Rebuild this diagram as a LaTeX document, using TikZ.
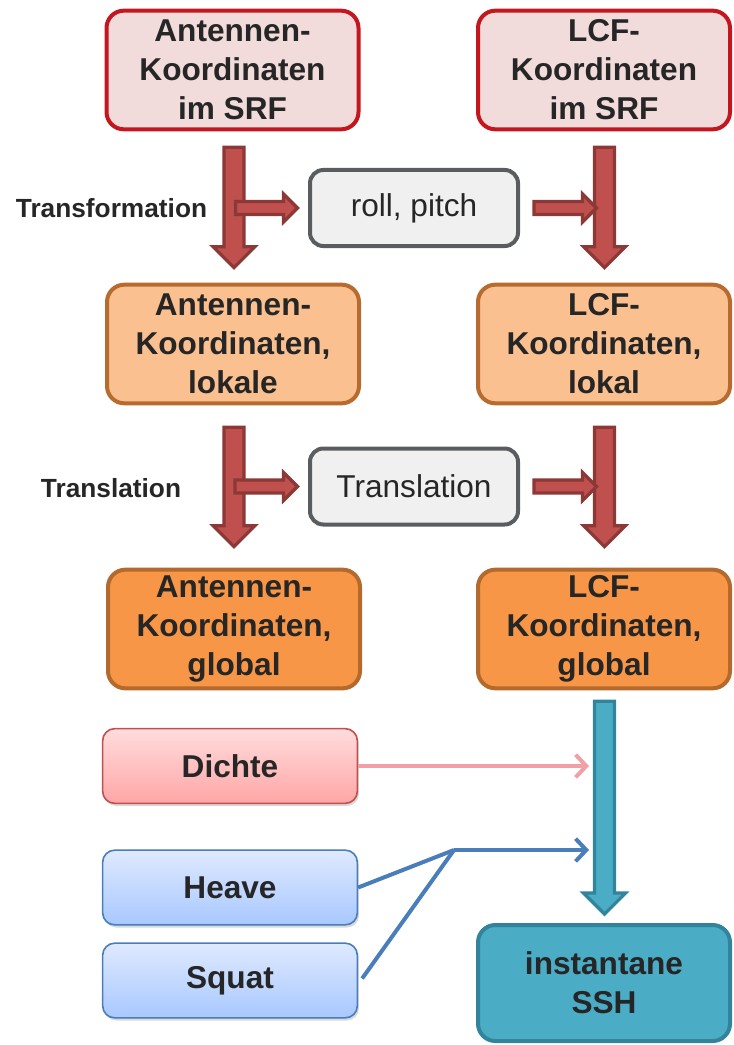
\documentclass[tikz,border=0pt]{standalone}
\usepackage{fontspec}
\setmainfont{Liberation Sans}
\usepackage{xcolor}
\usepackage{tikz}
\usetikzlibrary{
  positioning,
  arrows.meta,
  calc,
  shadows
}
\definecolor{srfrand}{HTML}{C4161F}
\definecolor{srffill}{HTML}{F2DCDB}
\definecolor{lokrand}{HTML}{B86B2E}
\definecolor{lokfill}{HTML}{FAC090}
\definecolor{globrand}{HTML}{B36A2C}
\definecolor{globfill}{HTML}{F79646}
\definecolor{graurand}{HTML}{595D60}
\definecolor{graufill}{HTML}{F0F0F0}
\definecolor{pfeilrot}{HTML}{C0504D}
\definecolor{pfeilrand}{HTML}{8C3836}
\definecolor{tuerkis}{HTML}{4BACC6}
\definecolor{tuerkisrand}{HTML}{31849B}
\definecolor{rosa}{HTML}{F2A0A8}
\definecolor{rosaoben}{HTML}{FFDCDC}
\definecolor{rosaunten}{HTML}{FFA6A6}
\definecolor{blau}{HTML}{4A7EBB}
\definecolor{blauoben}{HTML}{DFE9FF}
\definecolor{blauunten}{HTML}{A8C8FF}
\definecolor{schrift}{HTML}{262626}

% Blockpfeile: Stil, Start, Spitze, halbe Schaftbreite, halbe Kopfbreite, Kopflaenge
\newcommand{\pfeilrunter}[6]{%
  \filldraw[#1] let \p1=(#2), \p2=(#3) in
    (\x1-#4,\y1) -- (\x1+#4,\y1) -- (\x1+#4,\y2+#6) -- (\x1+#5,\y2+#6)
    -- (\x1,\y2) -- (\x1-#5,\y2+#6) -- (\x1-#4,\y2+#6) -- cycle;}
\newcommand{\pfeilrechts}[6]{%
  \filldraw[#1] let \p1=(#2), \p2=(#3) in
    (\x1,\y1+#4) -- (\x2-#6,\y1+#4) -- (\x2-#6,\y1+#5) -- (\x2,\y1)
    -- (\x2-#6,\y1-#5) -- (\x2-#6,\y1-#4) -- (\x1,\y1-#4) -- cycle;}

\begin{document}
\begin{tikzpicture}[
    x=0.75pt, y=-0.75pt,
    box/.style={rectangle, rounded corners=13pt, line width=3pt,
      minimum width=189pt, minimum height=89pt, inner sep=0pt, align=center,
      text=schrift, font=\fontsize{23.7}{29.3}\selectfont\bfseries},
    srf/.style={box, draw=srfrand, fill=srffill},
    lok/.style={box, draw=lokrand, fill=lokfill},
    glob/.style={box, draw=globrand, fill=globfill},
    ssh/.style={box, draw=tuerkisrand, fill=tuerkis, minimum height=87pt},
    op/.style={rectangle, rounded corners=10pt, line width=3pt, draw=graurand,
      fill=graufill, minimum width=156pt, minimum height=57pt, inner sep=0pt,
      text=schrift, font=\fontsize{23.7}{29.3}\selectfont},
    quelle/.style={rectangle, rounded corners=9pt, line width=1.2pt,
      minimum width=191pt, minimum height=56pt, inner sep=0pt, text=schrift,
      font=\fontsize{23.7}{29.3}\selectfont\bfseries,
      drop shadow={shadow xshift=1.2pt, shadow yshift=-2pt, opacity=0.3}},
    dichtebox/.style={quelle, draw=pfeilrot, top color=rosaoben, bottom color=rosaunten},
    bewegung/.style={quelle, draw=blau, top color=blauoben, bottom color=blauunten},
    beschr/.style={text=schrift, font=\fontsize{19.7}{24}\selectfont\bfseries},
    rotpfeil/.style={fill=pfeilrot, draw=pfeilrand, line width=2.4pt},
    tpfeil/.style={fill=tuerkis, draw=tuerkisrand, line width=2.4pt},
    zulauf/.style={line width=3pt, -{Straight Barb[length=8pt, width=17pt, line width=3pt]}}
]
    \useasboundingbox (0,0) rectangle (734,1045);

    % Koordinaten-Kaesten
    \node[srf]  (asrf)  at (232.5,70)  {Antennen-\\Koordinaten\\im SRF};
    \node[srf]  (lsrf)  at (604,70)    {LCF-\\Koordinaten\\im SRF};
    \node[lok]  (alok)  at (233,344)   {Antennen-\\Koordinaten,\\lokale};
    \node[lok]  (llok)  at (604,344)   {LCF-\\Koordinaten,\\lokal};
    \node[glob] (aglob) at (234,629)   {Antennen-\\Koordinaten,\\global};
    \node[glob] (lglob) at (604,629)   {LCF-\\Koordinaten,\\global};
    \node[ssh]  (ssh)   at (604,983)   {instantane\\SSH};

    % Operationen
    \node[op] (roll)  at (414,208)   {roll, pitch};
    \node[op] (trans) at (414,486.5) {Translation};
    \node[beschr] (ltrafo)  at (111.5,208) {Transformation};
    \node[beschr] (ltransl) at (111,488)   {Translation};

    % Eingangsgroessen
    \node[dichtebox] (dichte) at (230,766)   {Dichte};
    \node[bewegung]  (heave)  at (230,887.5) {Heave};
    \node[bewegung]  (squat)  at (230,980.5) {Squat};

    % grosse Pfeile
    \pfeilrunter{rotpfeil}{$(asrf.south)+(1.5,16)$}{$(alok.north)+(0.5,-15)$}{7.5pt}{15.75pt}{15.75pt}
    \pfeilrunter{rotpfeil}{$(lsrf.south)+(0.5,16)$}{$(llok.north)+(0.5,-15)$}{7.5pt}{15.75pt}{15.75pt}
    \pfeilrunter{rotpfeil}{$(alok.south)+(1,22)$}{$(aglob.north)+(0,-21)$}{7.5pt}{15.75pt}{15.75pt}
    \pfeilrunter{rotpfeil}{$(llok.south)+(0.5,22)$}{$(lglob.north)+(0.5,-21)$}{7.5pt}{15.75pt}{15.75pt}
    \pfeilrunter{tpfeil}{$(lglob.south)+(0.5,11)$}{$(ssh.north)+(0.5,-9)$}{7.5pt}{15.75pt}{15.75pt}

    % kleine Pfeile
    \pfeilrechts{rotpfeil}{$(asrf.south |- roll.west)+(3,0)$}{$(roll.west)+(-10.5,0)$}{4.9pt}{10.5pt}{10.5pt}
    \pfeilrechts{rotpfeil}{$(roll.east)+(14,0)$}{$(lsrf.south |- roll.east)+(-7.5,0)$}{4.9pt}{10.5pt}{10.5pt}
    \pfeilrechts{rotpfeil}{$(alok.south |- trans.west)+(2,0)$}{$(trans.west)+(-10.5,0)$}{4.9pt}{10.5pt}{10.5pt}
    \pfeilrechts{rotpfeil}{$(trans.east)+(14,0)$}{$(llok.south |- trans.east)+(-7.5,0)$}{4.9pt}{10.5pt}{10.5pt}

    % Zulaeufe zur SSH
    \coordinate (dziel) at ($(lglob.south |- dichte.east)+(-15,0)$);
    \coordinate (knick) at (454,850);
    \coordinate (hziel) at ($(lglob.south |- knick)+(-15,0)$);
    \draw[zulauf, rosa] (dichte.east) -- (dziel);
    \draw[line width=3pt, blau] (heave.east) -- (knick);
    \draw[line width=3pt, blau] ($(squat.east)+(4,-2)$) -- (knick);
    \draw[zulauf, blau] (knick) -- (hziel);
\end{tikzpicture}
\end{document}
